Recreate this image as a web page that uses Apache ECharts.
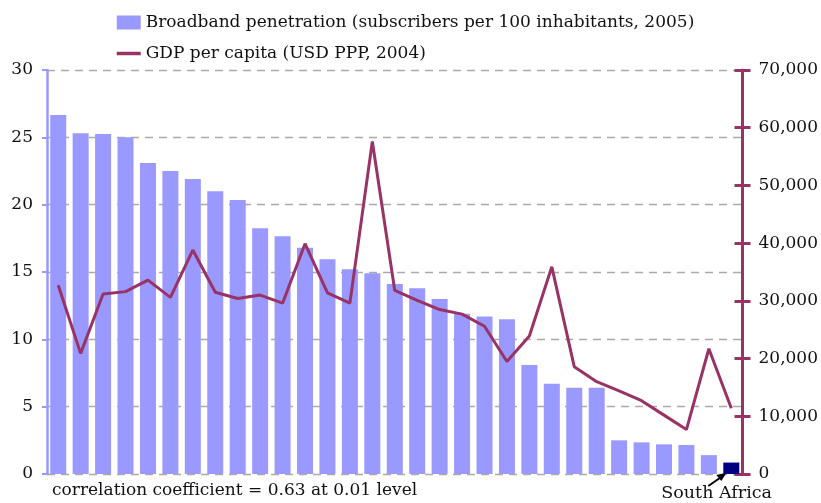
<!DOCTYPE html>
<html>
<head>
<meta charset="utf-8">
<script src="https://cdn.jsdelivr.net/npm/echarts@6/dist/echarts.min.js"></script>
<style>
  html, body { margin: 0; padding: 0; background: #fff; }
  #chart { width: 821px; height: 503px; }
</style>
</head>
<body>
<div id="chart"></div>
<script>
  // country index 1..31, last one is South Africa
  var countries = [];
  for (var i = 1; i <= 31; i++) countries.push('C' + i);
  countries[30] = 'South Africa';

  var broadband = [26.65, 25.3, 25.24, 25.0, 23.1, 22.5, 21.9, 21.0, 20.35, 18.25,
    17.65, 16.8, 15.95, 15.2, 14.9, 14.1, 13.8, 13.0, 11.9, 11.7,
    11.5, 8.1, 6.7, 6.4, 6.4, 2.5, 2.35, 2.2, 2.15, 1.4, 0.85];

  var gdp = [32700, 20900, 31200, 31600, 33600, 30600, 38800, 31500, 30400, 31000,
    29600, 39900, 31400, 29600, 57600, 31800, 30100, 28500, 27700, 25600,
    19500, 23900, 35900, 18600, 16000, 14400, 12700, 10200, 7700, 21700, 11400];

  var leftTicks = { min: 0, max: 30, interval: 5 };
  var rightTicks = { min: 0, max: 70000, interval: 10000 };

  var FONT = 'DejaVu Serif';
  var BAR = '#9999ff';
  var LINE = '#993366';

  var chart = echarts.init(document.getElementById('chart'));

  var barData = broadband.map(function (v, i) {
    if (countries[i] === 'South Africa') {
      return { value: v, itemStyle: { color: '#000080' } };
    }
    return v;
  });

  var option = {
    animation: false,
    textStyle: { fontFamily: FONT },
    grid: { left: 47, right: 75, top: 70, bottom: 29 },
    legend: {
      orient: 'vertical',
      left: 110,
      top: 9,
      itemWidth: 24,
      itemHeight: 14,
      itemGap: 14,
      textStyle: { fontFamily: FONT, fontSize: 17, color: '#111' },
      data: [
        { name: 'Broadband penetration (subscribers per 100 inhabitants, 2005)', icon: 'rect' },
        { name: 'GDP per capita (USD PPP, 2004)', itemStyle: { opacity: 0 }, lineStyle: { width: 3.5, color: LINE } }
      ]
    },
    xAxis: {
      type: 'category',
      data: countries,
      axisLine: { show: false },
      axisTick: { show: false },
      axisLabel: { show: false }
    },
    yAxis: [{
      type: 'value',
      min: leftTicks.min,
      max: leftTicks.max,
      interval: leftTicks.interval,
      axisLine: { show: true, lineStyle: { color: BAR, width: 2.5 } },
      axisTick: { show: true, length: 5, lineStyle: { color: BAR, width: 2 } },
      axisLabel: { fontFamily: FONT, fontSize: 17, color: '#111', margin: 14 },
      splitLine: { show: true, lineStyle: { color: '#aaaaaa', type: [8, 6], width: 1.3 } }
    }, {
      type: 'value',
      position: 'right',
      min: rightTicks.min,
      max: rightTicks.max,
      interval: rightTicks.interval,
      axisLine: { show: true, lineStyle: { color: LINE, width: 3 } },
      axisTick: { show: true, length: 8, lineStyle: { color: LINE, width: 3 } },
      axisLabel: {
        fontFamily: FONT, fontSize: 17, color: '#111', margin: 16,
        formatter: function (v) { return v.toLocaleString('en-US'); }
      },
      splitLine: { show: false }
    }, {
      // same scale again, inside ticks so they cross the axis
      type: 'value',
      position: 'right',
      min: rightTicks.min,
      max: rightTicks.max,
      interval: rightTicks.interval,
      axisLine: { show: false },
      axisTick: { show: true, inside: true, length: 8, lineStyle: { color: LINE, width: 3 } },
      axisLabel: { show: false },
      splitLine: { show: false }
    }],
    series: [{
      name: 'Broadband penetration (subscribers per 100 inhabitants, 2005)',
      type: 'bar',
      yAxisIndex: 0,
      barWidth: 16,
      itemStyle: { color: BAR },
      data: barData
    }, {
      name: 'GDP per capita (USD PPP, 2004)',
      type: 'line',
      yAxisIndex: 1,
      symbol: 'none',
      lineStyle: { color: LINE, width: 3 },
      itemStyle: { color: LINE },
      data: gdp
    }]
  };

  chart.setOption(option);

  // annotations placed from the chart's own scales
  var saIdx = countries.indexOf('South Africa');
  var bottom = chart.convertToPixel({ xAxisIndex: 0, yAxisIndex: 0 }, [saIdx, 0]);
  var bx = bottom[0], by = bottom[1];

  chart.setOption({
    graphic: [{
      type: 'text',
      left: 52,
      top: 482,
      style: {
        text: 'correlation coefficient = 0.63 at 0.01 level',
        font: '17px "DejaVu Serif"',
        fill: '#111'
      }
    }, {
      type: 'text',
      x: bx - 70,
      y: by + 10,
      style: {
        text: 'South Africa',
        font: '17.5px "DejaVu Serif"',
        fill: '#111'
      }
    }, {
      type: 'line',
      shape: { x1: bx - 23, y1: by + 12, x2: bx - 10, y2: by + 3 },
      style: { stroke: '#000', lineWidth: 2 }
    }, {
      type: 'polygon',
      shape: { points: [[bx - 5, by - 1], [bx - 15, by + 1], [bx - 10, by + 7]] },
      style: { fill: '#000' }
    }]
  });
</script>
</body>
</html>
